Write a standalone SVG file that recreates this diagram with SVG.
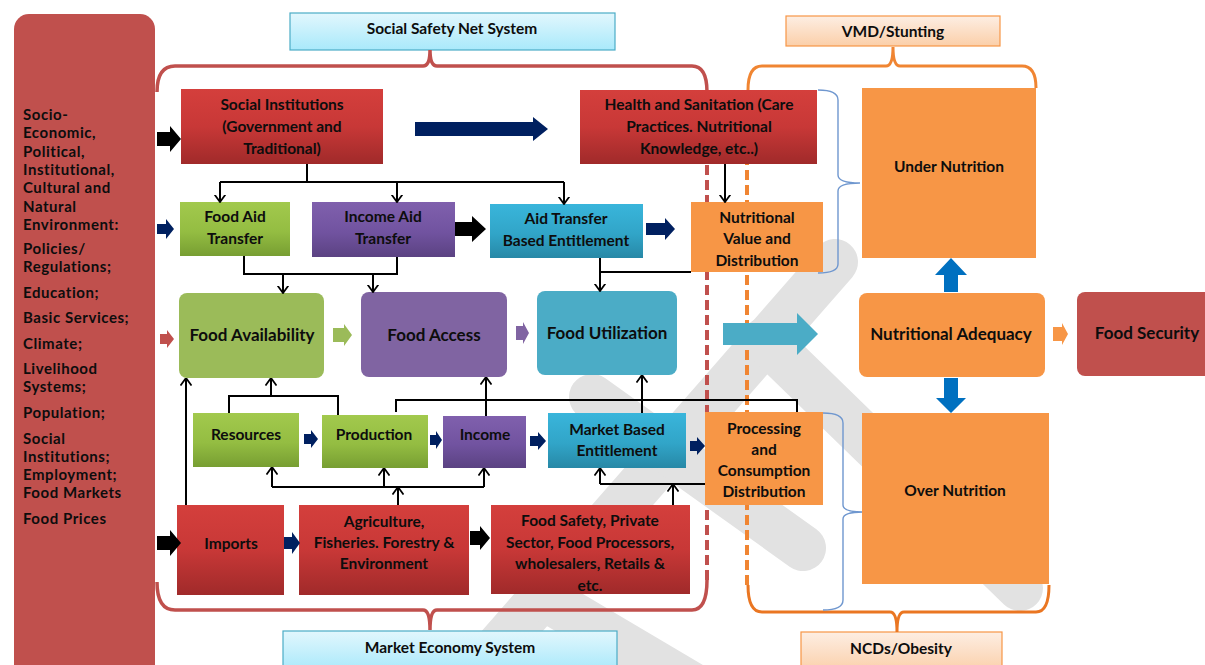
<svg xmlns="http://www.w3.org/2000/svg" width="1205" height="665" viewBox="0 0 1205 665">
<defs>
<style>
text{font-family:Lato,"Open Sans","Liberation Sans",sans-serif;font-weight:bold;fill:#0d0d0d;}
.t{font-size:15.5px;text-anchor:middle;}
.tl{font-size:17px;text-anchor:middle;}
.side{font-size:15px;letter-spacing:0.55px;}
.hdr{font-size:15.5px;text-anchor:middle;}
.ln{fill:none;stroke:#000;stroke-width:2;}
.la{fill:none;stroke:#000;stroke-width:2;marker-end:url(#v);}
.navy{fill:#002060;}
.blk{fill:#000;}
.wm{stroke:#e2e2e2;stroke-width:46;stroke-linecap:round;fill:none;}
</style>
<marker id="v" viewBox="0 0 8 12" refX="7.5" refY="6" markerWidth="8" markerHeight="12" markerUnits="userSpaceOnUse" orient="auto">
<path d="M0,0.5 L7.5,6 L0,11.5" fill="none" stroke="#000" stroke-width="1.8"/>
</marker>
<linearGradient id="gRed" x1="0" y1="0" x2="0" y2="1"><stop offset="0" stop-color="#d43f3c"/><stop offset="0.5" stop-color="#c83837"/><stop offset="1" stop-color="#a02a2a"/></linearGradient>
<linearGradient id="gGreen" x1="0" y1="0" x2="0" y2="1"><stop offset="0" stop-color="#a2c94d"/><stop offset="0.55" stop-color="#94bd42"/><stop offset="1" stop-color="#779e32"/></linearGradient>
<linearGradient id="gPurple" x1="0" y1="0" x2="0" y2="1"><stop offset="0" stop-color="#8060ad"/><stop offset="0.55" stop-color="#7153a0"/><stop offset="1" stop-color="#5b4282"/></linearGradient>
<linearGradient id="gBlue" x1="0" y1="0" x2="0" y2="1"><stop offset="0" stop-color="#39b5db"/><stop offset="0.55" stop-color="#31a5c8"/><stop offset="1" stop-color="#2788a6"/></linearGradient>
<linearGradient id="gCyan" x1="0" y1="0" x2="0" y2="1"><stop offset="0" stop-color="#e2f7fd"/><stop offset="1" stop-color="#a9e9fb"/></linearGradient>
<linearGradient id="gPeach" x1="0" y1="0" x2="0" y2="1"><stop offset="0" stop-color="#fdeee3"/><stop offset="1" stop-color="#fbcfa9"/></linearGradient>
</defs>
<rect width="1205" height="665" fill="#fff"/>

<!-- watermark -->
<g id="watermark">
<path class="wm" d="M835,262 L480,668"/>
<path class="wm" d="M765,340 L1020,588"/>
<path class="wm" d="M592,397 L803,548"/>
<path class="wm" d="M548,600 L700,690"/>
</g>

<!-- left panel -->
<g id="context">
<rect x="14" y="14" width="141" height="670" rx="15" fill="#c0504d"/>
<text class="side" x="23" y="120">Socio-</text>
<text class="side" x="23" y="138">Economic,</text>
<text class="side" x="23" y="157">Political,</text>
<text class="side" x="23" y="175">Institutional,</text>
<text class="side" x="23" y="193">Cultural and</text>
<text class="side" x="23" y="212">Natural</text>
<text class="side" x="23" y="230">Environment:</text>
<text class="side" x="23" y="254">Policies/</text>
<text class="side" x="23" y="272">Regulations;</text>
<text class="side" x="23" y="298">Education;</text>
<text class="side" x="23" y="323">Basic Services;</text>
<text class="side" x="23" y="349">Climate;</text>
<text class="side" x="23" y="374">Livelihood</text>
<text class="side" x="23" y="392">Systems;</text>
<text class="side" x="23" y="418">Population;</text>
<text class="side" x="23" y="444">Social</text>
<text class="side" x="23" y="462">Institutions;</text>
<text class="side" x="23" y="480">Employment;</text>
<text class="side" x="23" y="498">Food Markets</text>
<text class="side" x="23" y="524">Food Prices</text>
</g>

<!-- headers -->
<g id="hdr-ssn"><rect x="290" y="13" width="325" height="37" fill="url(#gCyan)" stroke="#4bacc6" stroke-width="1.2"/><text class="hdr" x="452" y="34">Social Safety Net System</text></g>
<g id="hdr-vmd"><rect x="786" y="16" width="214" height="30" fill="url(#gPeach)" stroke="#f79646" stroke-width="1.2"/><text class="hdr" x="893" y="37">VMD/Stunting</text></g>
<g id="hdr-mes"><rect x="283" y="631" width="334" height="40" fill="url(#gCyan)" stroke="#4bacc6" stroke-width="1.2"/><text class="hdr" x="450" y="653">Market Economy System</text></g>
<g id="hdr-ncd"><rect x="801" y="632" width="201" height="40" fill="url(#gPeach)" stroke="#f79646" stroke-width="1.2"/><text class="hdr" x="901" y="654">NCDs/Obesity</text></g>

<!-- braces -->
<g id="braces" fill="none">
<path d="M157,92 Q157,66 175,66 L423,66 Q430,66 430,50 Q430,66 437,66 L692,66 Q707,66 707,92" stroke="#c0504d" stroke-width="3.5"/>
<path d="M157,582 Q157,610 175,610 L423,610 Q430,610 430,630 Q430,610 437,610 L692,610 Q707,610 707,580" stroke="#c0504d" stroke-width="3.5"/>
<path d="M707,580 L707,162" stroke="#c0504d" stroke-width="4" stroke-dasharray="10 5"/>
<path d="M748,90 Q748,66 762,66 L886,66 Q893,66 893,47 Q893,66 900,66 L1022,66 Q1036,66 1036,88" stroke="#f08532" stroke-width="3"/>
<path d="M748,585 Q748,612 762,612 L890,612 Q897,612 897,632 Q897,612 904,612 L1036,612 Q1049,612 1049,585" stroke="#ea7622" stroke-width="3"/>
<path d="M747,585 L747,162" stroke="#f08532" stroke-width="4" stroke-dasharray="10 5"/>
<path d="M818,90 Q838,90 838,100 L838,175 Q838,183 860,183 Q838,183 838,191 L838,264 Q838,273 818,273" stroke="#6f97cf" stroke-width="1.4"/>
<path d="M823,413 Q843,413 843,423 L843,505 Q843,512 863,512 Q843,512 843,519 L843,600 Q843,610 823,610" stroke="#6f97cf" stroke-width="1.4"/>
</g>

<!-- nodes -->
<g id="n-social"><rect x="181" y="89" width="202" height="75" fill="url(#gRed)"/><text class="t"><tspan x="282" y="110">Social Institutions</tspan><tspan x="282" y="132">(Government and</tspan><tspan x="282" y="154">Traditional)</tspan></text></g>
<g id="n-health"><rect x="580" y="90" width="237" height="74" fill="url(#gRed)"/><text class="t"><tspan x="699" y="110">Health and Sanitation (Care</tspan><tspan x="699" y="132">Practices. Nutritional</tspan><tspan x="699" y="154">Knowledge, etc..)</tspan></text></g>
<g id="n-foodaid"><rect x="180" y="202" width="110" height="54" fill="url(#gGreen)"/><text class="t"><tspan x="235" y="222">Food Aid</tspan><tspan x="235" y="244">Transfer</tspan></text></g>
<g id="n-incomeaid"><rect x="312" y="202" width="143" height="55" fill="url(#gPurple)"/><text class="t"><tspan x="383" y="222">Income Aid</tspan><tspan x="383" y="244">Transfer</tspan></text></g>
<g id="n-aidtransfer"><rect x="490" y="204" width="153" height="54" fill="url(#gBlue)"/><text class="t"><tspan x="566" y="224">Aid Transfer</tspan><tspan x="566" y="246">Based Entitlement</tspan></text></g>
<g id="n-nutval"><rect x="691" y="202" width="132" height="70" fill="#f79646"/><text class="t"><tspan x="757" y="223">Nutritional</tspan><tspan x="757" y="244">Value and</tspan><tspan x="757" y="266">Distribution</tspan></text></g>
<g id="n-avail"><rect x="179" y="293" width="145" height="85" rx="8" fill="#9bbb59"/><text class="tl" x="252" y="341">Food Availability</text></g>
<g id="n-access"><rect x="361" y="292" width="146" height="85" rx="8" fill="#8064a2"/><text class="tl" x="434" y="341">Food Access</text></g>
<g id="n-util"><rect x="537" y="291" width="140" height="84" rx="8" fill="#4bacc6"/><text class="tl" x="607" y="339">Food Utilization</text></g>
<g id="n-resources"><rect x="193" y="413" width="106" height="54" fill="url(#gGreen)"/><text class="t" x="246" y="440">Resources</text></g>
<g id="n-production"><rect x="322" y="415" width="106" height="53" fill="url(#gGreen)"/><text class="t" x="374" y="440">Production</text></g>
<g id="n-income"><rect x="443" y="416" width="83" height="52" fill="url(#gPurple)"/><text class="t" x="485" y="440">Income</text></g>
<g id="n-market"><rect x="548" y="413" width="138" height="55" fill="url(#gBlue)"/><text class="t"><tspan x="617" y="435">Market Based</tspan><tspan x="617" y="456">Entitlement</tspan></text></g>
<g id="n-processing"><rect x="705" y="412" width="118" height="93" fill="#f79646"/><text class="t"><tspan x="764" y="434">Processing</tspan><tspan x="764" y="455">and</tspan><tspan x="764" y="476">Consumption</tspan><tspan x="764" y="497">Distribution</tspan></text></g>
<g id="n-imports"><rect x="177" y="505" width="107" height="90" fill="url(#gRed)"/><text class="t" x="231" y="549">Imports</text></g>
<g id="n-agri"><rect x="299" y="505" width="170" height="90" fill="url(#gRed)"/><text class="t"><tspan x="384" y="527">Agriculture,</tspan><tspan x="384" y="548">Fisheries. Forestry &amp;</tspan><tspan x="384" y="569">Environment</tspan></text></g>
<g id="n-foodsafety"><rect x="491" y="505" width="199" height="89" fill="url(#gRed)"/><text class="t"><tspan x="590" y="526">Food Safety, Private</tspan><tspan x="590" y="548">Sector, Food Processors,</tspan><tspan x="590" y="569">wholesalers, Retails &amp;</tspan><tspan x="590" y="591">etc.</tspan></text></g>
<g id="n-under"><rect x="862" y="88" width="174" height="170" fill="#f79646"/><text class="t" x="949" y="172">Under Nutrition</text></g>
<g id="n-adequacy"><rect x="859" y="293" width="186" height="84" rx="8" fill="#f79646"/><text class="tl" x="951" y="340">Nutritional Adequacy</text></g>
<g id="n-over"><rect x="862" y="413" width="187" height="171" fill="#f79646"/><text class="t" x="955" y="496">Over Nutrition</text></g>
<g id="n-security"><rect x="1077" y="292" width="140" height="84" rx="8" fill="#c0504d"/><text class="tl" x="1147" y="339">Food Security</text></g>

<!-- connectors -->
<g id="connectors">
<!-- block arrows -->
<polygon class="blk" points="157,132 170,132 170,126 181,139 170,152 170,146 157,146"/>
<polygon class="navy" points="415,122 533,122 533,117 548,129 533,141 533,136 415,136"/>
<polygon class="navy" points="157,224 166,224 166,219 174,229 166,239 166,234 157,234"/>
<polygon class="blk" points="455,222 472,222 472,216 486,229 472,242 472,236 455,236"/>
<polygon class="navy" points="646,223 665,223 665,218 675,229 665,240 665,235 646,235"/>
<polygon fill="#c0504d" points="160,334 167,334 167,330 174,339 167,348 167,344 160,344"/>
<polygon fill="#9bbb59" points="333,328 344,328 344,324 352,335 344,346 344,342 333,342"/>
<polygon fill="#8064a2" points="516,326 523,326 523,322 529,333 523,344 523,340 516,340"/>
<polygon fill="#4bacc6" points="723,323 797,323 797,313 818,334 797,355 797,345 723,345"/>
<polygon fill="#f79646" points="1053,327 1062,327 1062,323 1068,334 1062,345 1062,341 1053,341"/>
<polygon fill="#0070c0" points="944,292 944,275 935,275 951,258 967,275 958,275 958,292"/>
<polygon fill="#0070c0" points="944,378 944,398 936,398 951,413 966,398 958,398 958,378"/>
<polygon class="navy" points="304,434 311,434 311,430 318,439 311,448 311,444 304,444"/>
<polygon class="navy" points="430,435 436,435 436,431 442,440 436,449 436,445 430,445"/>
<polygon class="navy" points="530,436 538,436 538,432 546,441 538,450 538,446 530,446"/>
<polygon class="navy" points="690,441 697,441 697,437 705,446 697,455 697,451 690,451"/>
<polygon class="blk" points="157,536 170,536 170,530 181,543 170,556 170,550 157,550"/>
<polygon class="navy" points="284,537 292,537 292,532 300,543 292,554 292,549 284,549"/>
<polygon class="blk" points="470,531 480,531 480,526 490,538 480,550 480,545 470,545"/>

<!-- line connectors -->
<path class="ln" d="M307,164 L307,182 M220,182 L564,182"/>
<path class="la" d="M220,182 L220,202"/>
<path class="la" d="M397,182 L397,202"/>
<path class="la" d="M564,182 L564,204"/>
<path class="ln" d="M244,256 L244,274 L397,274 L397,257"/>
<path class="la" d="M283,274 L283,293"/>
<path class="la" d="M373,274 L373,292"/>
<path class="ln" d="M691,272 L600,272"/>
<path class="la" d="M600,258 L600,291"/>
<path class="la" d="M725,164 L725,202"/>
<path class="ln" d="M229,413 L229,396 L338,396 L338,415"/>
<path class="la" d="M271,396 L271,378"/>
<path class="la" d="M186,505 L186,378"/>
<path class="ln" d="M396,412 L396,400 L797,400 L797,412"/>
<path class="la" d="M486,416 L486,377"/>
<path class="la" d="M642,413 L642,375"/>
<path class="ln" d="M272,487 L484,487"/>
<path class="la" d="M272,487 L272,467"/>
<path class="la" d="M384,487 L384,468"/>
<path class="la" d="M484,487 L484,468"/>
<path class="la" d="M398,505 L398,487"/>
<path class="ln" d="M705,484 L600,484"/>
<path class="la" d="M600,484 L600,468"/>
<path class="la" d="M673,505 L673,484"/>
</g>
</svg>
